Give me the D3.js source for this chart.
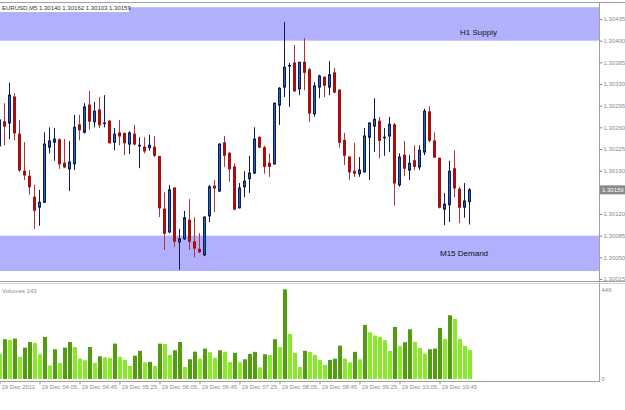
<!DOCTYPE html>
<html>
<head>
<meta charset="utf-8">
<script src="https://cdnjs.cloudflare.com/ajax/libs/d3/7.8.5/d3.min.js"></script>
<style>
body { margin: 0; background: #fff; }
svg { display: block; font-family: "Liberation Sans", Arial, sans-serif; }
</style>
</head>
<body>
<svg id="myGraph" width="625" height="410"></svg>
<script>
// EURUSD M5 bars, 19 Dec 2011 03:20 .. 11:15
var openP = [1.30230,1.30269,1.30267,1.30309,1.30249,1.30189,1.30181,1.30147,1.30131,1.30139,
    1.30228,1.30236,1.30240,1.30202,1.30193,1.30201,1.30264,1.30252,1.30296,1.30269,
    1.30288,1.30267,1.30270,1.30236,1.30251,1.30250,1.30233,1.30249,1.30230,1.30228,
    1.30227,1.30228,1.30213,1.30128,1.30091,1.30162,1.30075,1.30080,1.30110,1.30075,
    1.30063,1.30054,1.30117,1.30165,1.30157,1.30235,1.30218,1.30196,1.30130,1.30164,
    1.30177,1.30186,1.30244,1.30227,1.30202,1.30201,1.30296,1.30325,1.30359,1.30364,
    1.30322,1.30365,1.30353,1.30282,1.30325,1.30341,1.30325,1.30348,1.30320,1.30239,
    1.30212,1.30189,1.30185,1.30188,1.30244,1.30262,1.30270,1.30243,1.30246,1.30264,
    1.30167,1.30215,1.30191,1.30206,1.30196,1.30220,1.30285,1.30238,1.30210,1.30128,
    1.30135,1.30193,1.30160,1.30131,1.30140];
var highP = [1.30277,1.30299,1.30332,1.30315,1.30272,1.30236,1.30191,1.30167,1.30159,1.30252,
    1.30260,1.30259,1.30242,1.30241,1.30238,1.30280,1.30280,1.30299,1.30319,1.30301,
    1.30309,1.30312,1.30272,1.30259,1.30272,1.30252,1.30254,1.30264,1.30244,1.30244,
    1.30248,1.30246,1.30214,1.30155,1.30167,1.30163,1.30096,1.30125,1.30144,1.30115,
    1.30089,1.30116,1.30167,1.30175,1.30234,1.30246,1.30220,1.30202,1.30170,1.30189,
    1.30214,1.30260,1.30245,1.30230,1.30218,1.30300,1.30325,1.30430,1.30364,1.30393,
    1.30366,1.30404,1.30356,1.30333,1.30345,1.30342,1.30367,1.30356,1.30322,1.30251,
    1.30213,1.30235,1.30212,1.30259,1.30268,1.30307,1.30277,1.30259,1.30277,1.30267,
    1.30218,1.30238,1.30215,1.30231,1.30231,1.30290,1.30294,1.30252,1.30211,1.30154,
    1.30206,1.30223,1.30164,1.30170,1.30162];
var lowP = [1.30223,1.30231,1.30241,1.30239,1.30188,1.30175,1.30151,1.30096,1.30101,1.30138,
    1.30218,1.30206,1.30193,1.30194,1.30157,1.30191,1.30239,1.30250,1.30256,1.30260,
    1.30259,1.30260,1.30234,1.30223,1.30231,1.30215,1.30217,1.30231,1.30194,1.30218,
    1.30222,1.30212,1.30115,1.30062,1.30089,1.30067,1.30030,1.30078,1.30062,1.30050,
    1.30057,1.30052,1.30107,1.30123,1.30156,1.30196,1.30172,1.30126,1.30129,1.30147,
    1.30154,1.30185,1.30227,1.30185,1.30180,1.30200,1.30264,1.30309,1.30293,1.30317,
    1.30312,1.30320,1.30269,1.30277,1.30307,1.30309,1.30312,1.30315,1.30227,1.30199,
    1.30175,1.30180,1.30180,1.30187,1.30175,1.30220,1.30210,1.30214,1.30220,1.30134,
    1.30164,1.30181,1.30175,1.30191,1.30191,1.30215,1.30236,1.30211,1.30129,1.30102,
    1.30107,1.30147,1.30105,1.30114,1.30103];
var closeP = [1.30272,1.30262,1.30312,1.30251,1.30191,1.30183,1.30164,1.30126,1.30139,1.30233,
    1.30238,1.30241,1.30201,1.30196,1.30204,1.30260,1.30256,1.30293,1.30270,1.30286,
    1.30264,1.30267,1.30235,1.30249,1.30246,1.30235,1.30251,1.30233,1.30231,1.30222,
    1.30231,1.30215,1.30130,1.30089,1.30159,1.30076,1.30080,1.30114,1.30076,1.30065,
    1.30059,1.30115,1.30164,1.30162,1.30233,1.30215,1.30193,1.30128,1.30162,1.30173,
    1.30186,1.30241,1.30228,1.30197,1.30197,1.30299,1.30323,1.30357,1.30360,1.30319,
    1.30365,1.30349,1.30283,1.30327,1.30343,1.30328,1.30345,1.30317,1.30236,1.30215,
    1.30188,1.30186,1.30191,1.30246,1.30267,1.30273,1.30239,1.30244,1.30265,1.30170,
    1.30212,1.30194,1.30202,1.30197,1.30223,1.30286,1.30239,1.30212,1.30131,1.30136,
    1.30189,1.30162,1.30131,1.30141,1.30159];
var volumes = [126,198,194,201,110,156,184,179,123,209,67,148,80,156,184,159,101,93,159,80,
    113,108,105,176,110,95,65,116,140,83,85,65,176,174,120,143,184,60,98,136,
    101,151,133,105,143,136,85,130,83,98,125,135,58,123,120,198,159,446,224,130,
    60,140,135,120,95,70,95,101,166,101,83,135,98,269,232,216,209,193,140,259,
    164,183,247,184,154,126,148,151,254,199,317,299,199,164,143];

// supply / demand zones
var zoneNames = ["H1 Supply", "M15 Demand"];
var zoneTop = [1.30454, 1.30085];
var zoneBottom = [1.30400, 1.30028];

// axis labels
var priceTicks = [1.30015,1.30050,1.30085,1.30120,1.30155,1.30190,1.30225,1.30260,1.30295,1.30330,1.30365,1.30400,1.30435];
var timeTickIdx = [0,8,16,24,32,40,48,56,64,72,80,88];
var timeLabels = ["19 Dec 2011","19 Dec 04:05","19 Dec 04:45","19 Dec 05:25","19 Dec 06:05","19 Dec 06:45",
    "19 Dec 07:25","19 Dec 08:05","19 Dec 08:45","19 Dec 09:25","19 Dec 10:05","19 Dec 10:45"];
var volTicks = [0, 446];

var bullFill = "#2062cc", bullLine = "#101c4c";
var bearFill = "#b40a0a", bearLine = "#a01010", bearWick = "#a8383a";
var upVol = "#529c12", downVol = "#8ae82a";
var axisGray = "#8c8c8c";

var svg = d3.select("#myGraph");

var x = d3.scaleLinear().domain([0, 94]).range([-0.5, 469.5]);
var y = d3.scaleLinear().domain([1.30015, 1.30435]).range([279, 19]);
var yv = d3.scaleLinear().domain([0, 446]).range([379, 289.3]);

// zones
svg.append("g")
    .selectAll("rect")
    .data(zoneNames)
    .enter()
    .append("rect")
    .attr("x", 0)
    .attr("width", 599)
    .attr("y", function(d, i) { return y(zoneTop[i]); })
    .attr("height", function(d, i) { return y(zoneBottom[i]) - y(zoneTop[i]); })
    .style("fill", "#b0b0fc");

svg.append("text").attr("x", 460).attr("y", y(zoneBottom[0]) - 6)
    .style("font-size", "8px").style("fill", "#111").text(zoneNames[0]);
svg.append("text").attr("x", 440).attr("y", (y(zoneTop[1]) + y(zoneBottom[1])) / 2 + 3)
    .style("font-size", "8px").style("fill", "#111").text(zoneNames[1]);

// candles
var idx = d3.range(openP.length);
var candle = svg.append("g");

candle.selectAll("line")
    .data(idx)
    .enter()
    .append("line")
    .attr("x1", function(i) { return x(i); })
    .attr("x2", function(i) { return x(i); })
    .attr("y1", function(i) { return y(highP[i]); })
    .attr("y2", function(i) { return y(lowP[i]); })
    .style("stroke", function(i) { return closeP[i] >= openP[i] ? bullLine : bearWick; })
    .style("stroke-width", 1);

candle.selectAll("rect")
    .data(idx)
    .enter()
    .append("rect")
    .attr("x", function(i) { return x(i) - 1; })
    .attr("width", 2)
    .attr("y", function(i) { return y(Math.max(openP[i], closeP[i])); })
    .attr("height", function(i) {
        return Math.max(Math.abs(y(openP[i]) - y(closeP[i])), 0.5);
    })
    .style("fill", function(i) { return closeP[i] >= openP[i] ? bullFill : bearFill; })
    .style("stroke", function(i) { return closeP[i] >= openP[i] ? bullLine : bearLine; })
    .style("stroke-width", 1);

// volumes, dark when bigger than the previous bar
svg.append("g")
    .selectAll("rect")
    .data(volumes)
    .enter()
    .append("rect")
    .attr("x", function(d, i) { return x(i) - 1.5; })
    .attr("width", 4)
    .attr("y", function(d) { return yv(d); })
    .attr("height", function(d) { return yv(0) - yv(d); })
    .style("fill", function(d, i) { return i > 0 && d > volumes[i - 1] ? upVol : downVol; });

// frame
var frame = svg.append("g").style("stroke", "#a0a0a0").style("stroke-width", 1);
frame.append("line").attr("x1", 0).attr("x2", 625).attr("y1", 2.5).attr("y2", 2.5);
frame.append("line").attr("x1", 599.5).attr("x2", 599.5).attr("y1", 2).attr("y2", 382);
frame.append("line").attr("x1", 0).attr("x2", 625).attr("y1", 281.5).attr("y2", 281.5);
frame.append("line").attr("x1", 0).attr("x2", 625).attr("y1", 283.5).attr("y2", 283.5).style("stroke", "#d4d4d4");
frame.append("line").attr("x1", 0).attr("x2", 600).attr("y1", 381.5).attr("y2", 381.5);

var last = closeP[closeP.length - 1];

// price axis (the label under the last-price box is left out)
var pAxis = svg.append("g")
    .attr("transform", "translate(599.5,0)")
    .call(d3.axisRight(y).tickValues(priceTicks).tickSize(3).tickPadding(1)
        .tickFormat(function(d) { return Math.abs(d - last) < 0.0001 ? "" : d3.format(".5f")(d); }));
pAxis.select(".domain").remove();
pAxis.selectAll("line").style("stroke", axisGray);
pAxis.selectAll("text").style("font-size", "6px").style("fill", axisGray).style("font-family", "Liberation Sans");

// volume axis
var vAxis = svg.append("g")
    .attr("transform", "translate(599.5,0)")
    .call(d3.axisRight(yv).tickValues(volTicks).tickSize(0).tickPadding(2).tickFormat(d3.format("d")));
vAxis.select(".domain").remove();
vAxis.selectAll("text").style("font-size", "6px").style("fill", axisGray).style("font-family", "Liberation Sans");

// time axis
var tAxis = svg.append("g")
    .attr("transform", "translate(0,381.5)")
    .call(d3.axisBottom(x).tickValues(timeTickIdx).tickSize(3)
        .tickFormat(function(d, i) { return timeLabels[i]; }));
tAxis.select(".domain").remove();
tAxis.selectAll("line").style("stroke", axisGray);
tAxis.selectAll("text")
    .attr("text-anchor", "start")
    .attr("x", 1.5)
    .attr("y", 3)
    .style("font-size", "6px").style("fill", axisGray).style("font-family", "Liberation Sans");

// current price marker
svg.append("rect").attr("x", 600).attr("y", y(last) - 4.5).attr("width", 25).attr("height", 9)
    .style("fill", "#8a8a8a");
svg.append("text").attr("x", 602).attr("y", y(last) + 2)
    .style("font-size", "6px").style("fill", "#fff").text(d3.format(".5f")(last));

// title and indicator name
svg.append("rect").attr("x", 0).attr("y", 3).attr("width", 129).attr("height", 9).style("fill", "#fff");
svg.append("text").attr("x", 2).attr("y", 10)
    .style("font-size", "6px").style("fill", "#333")
    .text("EURUSD,M5  " + [openP[94], highP[94], lowP[94], closeP[94]].map(d3.format(".5f")).join(" "));
svg.append("text").attr("x", 2).attr("y", 293)
    .style("font-size", "6px").style("fill", axisGray)
    .text("Volumes " + volumes[volumes.length - 1]);
</script>
</body>
</html>
